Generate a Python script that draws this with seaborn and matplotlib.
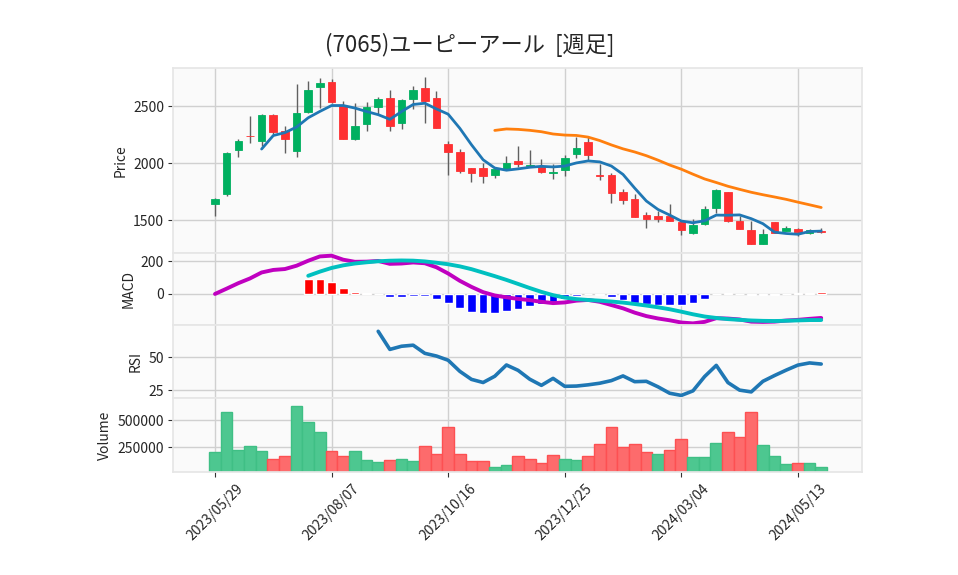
import numpy as np
import pandas as pd
import seaborn as sns
import matplotlib.pyplot as plt
from matplotlib.ticker import ScalarFormatter

# weekly OHLC
opens = [1640, 1733, 2114, 2240, 2198, 2424, 2283, 2110, 2453, 2672,
         2710, 2500, 2213, 2347, 2497, 2573, 2356, 2567, 2660, 2573,
         2169, 2096, 1956, 1956, 1900, 1950, 2018, 1980, 1968, 1918,
         1939, 2084, 2184, 1897, 1897, 1751, 1684, 1547, 1538, 1538,
         1488, 1391, 1465, 1605, 1746, 1494, 1412, 1295, 1485, 1409,
         1424, 1388, 1408]
highs = [1698, 2096, 2213, 2417, 2430, 2435, 2327, 2698, 2722, 2745,
         2737, 2550, 2526, 2540, 2584, 2640, 2565, 2681, 2754, 2637,
         2198, 2125, 1960, 2000, 1955, 2064, 2149, 2120, 2035, 1991,
         2070, 2228, 2231, 1996, 1912, 1772, 1728, 1570, 1584, 1640,
         1495, 1509, 1628, 1775, 1750, 1540, 1494, 1421, 1488, 1450,
         1435, 1427, 1430]
lows = [1538, 1713, 2055, 2175, 2150, 2254, 2088, 2055, 2440, 2482,
        2530, 2210, 2202, 2283, 2424, 2283, 2298, 2474, 2351, 2310,
        1897, 1912, 1833, 1825, 1868, 1945, 1971, 1975, 1912, 1860,
        1889, 2044, 2029, 1854, 1649, 1646, 1525, 1430, 1488, 1490,
        1371, 1380, 1460, 1561, 1488, 1420, 1288, 1290, 1388, 1405,
        1362, 1380, 1386]
closes = [1684, 2088, 2193, 2235, 2424, 2277, 2216, 2438, 2643, 2702,
          2535, 2216, 2327, 2491, 2564, 2330, 2555, 2640, 2546, 2312,
          2102, 1935, 1918, 1886, 1950, 2006, 1994, 1988, 1927, 1924,
          2044, 2132, 2075, 1886, 1742, 1675, 1532, 1509, 1514, 1497,
          1412, 1456, 1597, 1763, 1491, 1427, 1290, 1377, 1391, 1432,
          1395, 1410, 1395]
volumes = [204000, 573000, 222500, 259000, 213000, 140000, 167600, 634600, 479000, 387000,
           213000, 167600, 213000, 131000, 113000, 131000, 140000, 122000, 259000, 186000,
           433000, 186000, 122000, 122000, 67000, 85000, 167600, 140000, 103500, 177000,
           140000, 131000, 167600, 277000, 433000, 250000, 277000, 204000, 186000, 222500,
           323000, 158000, 158000, 286600, 387000, 341600, 579700, 268300, 167600, 94300,
           103500, 103500, 70000]
vol_up = [1, 1, 1, 1, 1, 0, 0, 1, 1, 1,
          0, 0, 1, 1, 1, 0, 1, 1, 0, 0,
          0, 0, 0, 0, 1, 1, 0, 0, 0, 0,
          1, 1, 0, 0, 0, 0, 0, 0, 1, 0,
          0, 1, 1, 1, 0, 0, 0, 1, 1, 1,
          0, 1, 1]
start_date = '2023-05-29'
title = '(7065)ユーピーアール  [週足]'

df = pd.DataFrame({'Open': opens, 'High': highs, 'Low': lows,
                   'Close': closes, 'Volume': volumes})
df['Date'] = pd.date_range(start_date, periods=len(df), freq='W-MON')
df['x'] = np.arange(len(df))

# indicators
df['MA5'] = df['Close'].rolling(5).mean()
df['MA25'] = df['Close'].rolling(25).mean()
ema12 = df['Close'].ewm(span=12, adjust=False).mean()
ema26 = df['Close'].ewm(span=26, adjust=False).mean()
df['MACD'] = ema12 - ema26
df['Signal'] = df['MACD'].rolling(9).mean()
df['Hist'] = df['MACD'] - df['Signal']
diff = df['Close'].diff()
gain = diff.clip(lower=0).rolling(14).mean()
loss = (-diff.clip(upper=0)).rolling(14).mean()
df['RSI'] = 100 * gain / (gain + loss)

sns.set_theme(style='whitegrid', rc={
    'axes.facecolor': '#fafafa',
    'axes.edgecolor': '#e6e6e6',
    'grid.color': '#d0d0d0',
    'grid.linewidth': 1.0,
    'xtick.bottom': True,
    'ytick.left': True,
})
plt.rcParams['font.family'] = ['Noto Sans CJK JP', 'DejaVu Sans']

fig, axes = plt.subplots(4, 1, figsize=(9.58, 5.75), dpi=100, sharex=True,
                         gridspec_kw={'height_ratios': [185, 72, 73, 74]})
fig.subplots_adjust(left=0.1806, right=0.8998, top=0.8817, bottom=0.1786, hspace=0)
ax_p, ax_m, ax_r, ax_v = axes

up_c, dn_c = '#00b060', '#fe3032'
is_up = df['Close'] >= df['Open']
colors = np.where(is_up, up_c, dn_c)

# candles
ax_p.vlines(df['x'], df['Low'], df['High'], color='#606060', lw=1, zorder=2)
body_lo = np.minimum(df['Open'], df['Close'])
body_h = np.maximum(np.abs(df['Close'] - df['Open']), 6)
ax_p.bar(df['x'], body_h, bottom=body_lo, width=0.65, color=colors,
         edgecolor=colors, lw=0.6, zorder=3)
sns.lineplot(data=df, x='x', y='MA5', ax=ax_p, color='#1f77b4', lw=2, zorder=4)
sns.lineplot(data=df, x='x', y='MA25', ax=ax_p, color='#ff7f0e', lw=2, zorder=4)
ax_p.set_ylim(1211, 2836)
ax_p.set_yticks([1500, 2000, 2500])
ax_p.set_ylabel('Price', fontsize=10)

# MACD
h = df.dropna(subset=['Hist'])
hist_c = np.where(h['Hist'] >= 0, 'red', 'blue')
ax_m.bar(h['x'], h['Hist'], width=0.75, color=hist_c, zorder=2)
sns.lineplot(data=df, x='x', y='MACD', ax=ax_m, color='#c000c0', lw=2.8, zorder=3)
sns.lineplot(data=df, x='x', y='Signal', ax=ax_m, color='#00c0c0', lw=2.8, zorder=3)
ax_m.set_ylim(-190, 248)
ax_m.set_yticks([0, 200])
ax_m.set_ylabel('MACD', fontsize=10)

# RSI
sns.lineplot(data=df, x='x', y='RSI', ax=ax_r, color='#1f77b4', lw=2.6)
ax_r.set_ylim(19, 74)
ax_r.set_yticks([25, 50])
ax_r.set_ylabel('RSI', fontsize=10)

# volume
vcol = np.where(np.array(vol_up) == 1, '#4dc790', '#fd6b6c')
vedge = np.where(np.array(vol_up) == 1, '#3fbf85', '#fd5052')
ax_v.bar(df['x'], df['Volume'], width=1.0, color=vcol, edgecolor=vedge, lw=1, zorder=2)
ax_v.set_ylim(21000, 701500)
ax_v.set_yticks([250000, 500000])
fmt = ScalarFormatter(useOffset=False)
fmt.set_scientific(False)
ax_v.yaxis.set_major_formatter(fmt)
ax_v.set_ylabel('Volume', fontsize=10)

tick_idx = list(range(0, len(df), 10))
ax_v.set_xticks(tick_idx)
ax_v.set_xticklabels(df['Date'].dt.strftime('%Y/%m/%d').iloc[tick_idx],
                     rotation=45, ha='center')
ax_v.set_xlim(-3.6, 55.5)

for ax in axes:
    ax.tick_params(axis='both', labelsize=10, length=3.5, width=0.8,
                   color='#333333', pad=3)
    ax.set_xlabel('')
    ax.grid(True, color='#d0d0d0', lw=1)
    for s in ax.spines.values():
        s.set_color('#e6e6e6')
for ax in axes[:-1]:
    ax.tick_params(axis='x', bottom=False, labelbottom=False)

fig.text(0.49, 0.922, title, ha='center', va='center', fontsize=16)

fig.savefig('out.png', dpi=100)
